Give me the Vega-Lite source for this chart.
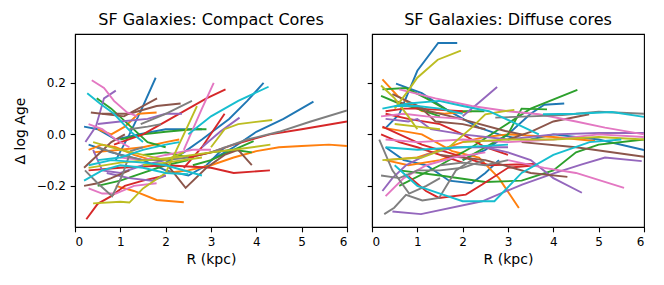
{
"$schema":"https://vega.github.io/schema/vega-lite/v6.json",
"padding":{"left":12,"top":11,"right":5,"bottom":5},
"config":{"font":"DejaVu Sans","view":{"stroke":"black","strokeWidth":1.1},
"axis":{"grid":false,"domainColor":"black","domainWidth":1.1,"tickColor":"black","tickWidth":1.1,"labelColor":"black","titleColor":"black","labelFontSize":12,"titleFontSize":14,"titleFontWeight":"normal","tickSize":4.8,"labelFont":"DejaVu Sans","titleFont":"DejaVu Sans"},
"title":{"fontSize":16,"fontWeight":"normal","font":"DejaVu Sans","color":"black","anchor":"middle","offset":6}},
"datasets":{
"compact":[
{"s":"00","x":0.9,"y":-0.1},{"s":"00","x":1.2,"y":0.0},{"s":"00","x":1.45,"y":0.09},{"s":"00","x":1.78,"y":0.22},
{"s":"10","x":1.9,"y":-0.12},{"s":"10","x":2.4,"y":-0.07},{"s":"10","x":2.8,"y":-0.02},{"s":"10","x":3.4,"y":0.06},{"s":"10","x":3.8,"y":0.13},{"s":"10","x":4.16,"y":0.2},
{"s":"20","x":3.0,"y":-0.1},{"s":"20","x":3.5,"y":-0.05},{"s":"20","x":4.0,"y":0.01},{"s":"20","x":4.6,"y":0.06},{"s":"20","x":5.26,"y":0.127},
{"s":"30","x":0.2,"y":0.03},{"s":"30","x":0.5,"y":0.02},{"s":"30","x":0.9,"y":-0.02},{"s":"30","x":1.4,"y":0.0},{"s":"30","x":2.0,"y":0.02},{"s":"30","x":2.5,"y":0.02},{"s":"30","x":2.8,"y":0.02},
{"s":"40","x":0.3,"y":-0.04},{"s":"40","x":0.8,"y":-0.07},{"s":"40","x":1.5,"y":-0.1},{"s":"40","x":2.0,"y":-0.14},{"s":"40","x":2.5,"y":-0.16},{"s":"40","x":2.9,"y":-0.12},{"s":"40","x":3.3,"y":-0.05},
{"s":"01","x":2.0,"y":-0.15},{"s":"01","x":2.5,"y":-0.14},{"s":"01","x":3.0,"y":-0.12},{"s":"01","x":3.5,"y":-0.09},{"s":"01","x":4.0,"y":-0.065},{"s":"01","x":4.5,"y":-0.05},{"s":"01","x":5.0,"y":-0.045},{"s":"01","x":5.6,"y":-0.04},{"s":"01","x":6.0,"y":-0.045},
{"s":"11","x":0.9,"y":-0.2},{"s":"11","x":1.3,"y":-0.22},{"s":"11","x":1.8,"y":-0.255},{"s":"11","x":2.4,"y":-0.264},
{"s":"21","x":0.5,"y":0.02},{"s":"21","x":0.8,"y":0.0},{"s":"21","x":1.1,"y":0.03},{"s":"21","x":1.4,"y":0.08},{"s":"21","x":1.8,"y":0.085},
{"s":"31","x":0.4,"y":-0.07},{"s":"31","x":1.0,"y":-0.06},{"s":"31","x":1.5,"y":-0.05},{"s":"31","x":2.0,"y":-0.03},{"s":"31","x":2.3,"y":-0.02},
{"s":"41","x":0.3,"y":-0.06},{"s":"41","x":0.6,"y":-0.04},{"s":"41","x":0.9,"y":-0.05},{"s":"41","x":1.3,"y":-0.08},{"s":"41","x":1.7,"y":-0.1},
{"s":"02","x":0.48,"y":0.14},{"s":"02","x":0.8,"y":0.1},{"s":"02","x":1.23,"y":0.03},{"s":"02","x":1.6,"y":-0.03},{"s":"02","x":2.0,"y":-0.05},
{"s":"12","x":0.5,"y":-0.2},{"s":"12","x":1.0,"y":-0.18},{"s":"12","x":1.5,"y":-0.15},{"s":"12","x":2.0,"y":-0.12},{"s":"12","x":2.5,"y":-0.1},
{"s":"22","x":1.5,"y":-0.08},{"s":"22","x":2.0,"y":-0.07},{"s":"22","x":2.5,"y":-0.09},{"s":"22","x":3.0,"y":-0.07},{"s":"22","x":3.5,"y":-0.06},{"s":"22","x":3.9,"y":-0.07},
{"s":"32","x":1.0,"y":-0.02},{"s":"32","x":1.5,"y":0.0},{"s":"32","x":2.0,"y":0.01},{"s":"32","x":2.6,"y":0.02},{"s":"32","x":2.9,"y":0.02},
{"s":"42","x":2.6,"y":-0.12},{"s":"42","x":3.0,"y":-0.1},{"s":"42","x":3.5,"y":-0.06},{"s":"42","x":3.94,"y":-0.026},
{"s":"03","x":0.86,"y":-0.04},{"s":"03","x":1.5,"y":0.0},{"s":"03","x":2.2,"y":0.07},{"s":"03","x":2.9,"y":0.14},{"s":"03","x":3.32,"y":0.175},
{"s":"13","x":2.4,"y":-0.13},{"s":"13","x":2.8,"y":-0.05},{"s":"13","x":3.3,"y":0.08},
{"s":"23","x":0.3,"y":-0.14},{"s":"23","x":1.0,"y":-0.13},{"s":"23","x":2.0,"y":-0.12},{"s":"23","x":3.0,"y":-0.13},{"s":"23","x":3.5,"y":-0.15},{"s":"23","x":4.3,"y":-0.14},
{"s":"33","x":0.25,"y":-0.33},{"s":"33","x":0.5,"y":-0.27},{"s":"33","x":0.8,"y":-0.24},{"s":"33","x":1.1,"y":-0.2},{"s":"33","x":1.5,"y":-0.18},{"s":"33","x":2.0,"y":-0.16},
{"s":"43","x":2.5,"y":-0.09},{"s":"43","x":3.0,"y":-0.07},{"s":"43","x":3.5,"y":-0.04},{"s":"43","x":4.3,"y":0.0},{"s":"43","x":5.0,"y":0.02},{"s":"43","x":6.0,"y":0.05},
{"s":"04","x":0.23,"y":-0.03},{"s":"04","x":0.46,"y":0.03},{"s":"04","x":0.64,"y":0.14},{"s":"04","x":0.9,"y":0.17},
{"s":"14","x":2.8,"y":-0.05},{"s":"14","x":3.2,"y":0.01},{"s":"14","x":3.63,"y":0.065},
{"s":"24","x":0.5,"y":0.04},{"s":"24","x":1.0,"y":0.05},{"s":"24","x":1.6,"y":0.06},{"s":"24","x":2.0,"y":0.08},{"s":"24","x":2.36,"y":0.08},
{"s":"34","x":0.4,"y":-0.06},{"s":"34","x":0.6,"y":-0.14},{"s":"34","x":1.0,"y":-0.15},{"s":"34","x":1.5,"y":-0.12},{"s":"34","x":2.0,"y":-0.1},
{"s":"44","x":0.7,"y":-0.15},{"s":"44","x":1.2,"y":-0.17},{"s":"44","x":1.7,"y":-0.18},{"s":"44","x":2.0,"y":-0.16},
{"s":"05","x":0.35,"y":0.085},{"s":"05","x":1.08,"y":0.07},{"s":"05","x":1.81,"y":0.14},
{"s":"15","x":0.6,"y":0.08},{"s":"15","x":1.2,"y":0.08},{"s":"15","x":1.8,"y":0.11},{"s":"15","x":2.33,"y":0.12},
{"s":"25","x":2.0,"y":-0.11},{"s":"25","x":2.44,"y":-0.208},{"s":"25","x":2.9,"y":-0.13},{"s":"25","x":3.3,"y":-0.08},{"s":"25","x":3.6,"y":-0.06},{"s":"25","x":3.9,"y":-0.12},
{"s":"35","x":0.2,"y":-0.13},{"s":"35","x":0.5,"y":-0.08},{"s":"35","x":0.8,"y":-0.03},{"s":"35","x":1.1,"y":0.0},
{"s":"45","x":0.2,"y":-0.2},{"s":"45","x":0.5,"y":-0.19},{"s":"45","x":0.8,"y":-0.17},{"s":"45","x":1.2,"y":-0.14},
{"s":"06","x":0.37,"y":0.21},{"s":"06","x":0.64,"y":0.18},{"s":"06","x":0.86,"y":0.13},{"s":"06","x":1.15,"y":0.085},{"s":"06","x":1.38,"y":0.07},
{"s":"16","x":2.4,"y":-0.06},{"s":"16","x":2.8,"y":0.1},{"s":"16","x":3.06,"y":0.2},
{"s":"26","x":0.3,"y":0.04},{"s":"26","x":0.6,"y":0.02},{"s":"26","x":0.9,"y":-0.02},{"s":"26","x":1.2,"y":-0.05},
{"s":"36","x":0.3,"y":-0.21},{"s":"36","x":0.6,"y":-0.23},{"s":"36","x":0.9,"y":-0.23},{"s":"36","x":1.3,"y":-0.2},{"s":"36","x":1.8,"y":-0.19},
{"s":"46","x":1.0,"y":-0.09},{"s":"46","x":1.5,"y":-0.1},{"s":"46","x":2.0,"y":-0.08},{"s":"46","x":2.6,"y":-0.06},{"s":"46","x":3.0,"y":-0.06},
{"s":"07","x":1.45,"y":0.04},{"s":"07","x":2.0,"y":0.08},{"s":"07","x":2.58,"y":0.13},
{"s":"17","x":3.0,"y":-0.07},{"s":"17","x":3.8,"y":-0.02},{"s":"17","x":4.5,"y":0.01},{"s":"17","x":5.2,"y":0.05},{"s":"17","x":6.0,"y":0.093},
{"s":"27","x":0.22,"y":-0.14},{"s":"27","x":0.5,"y":-0.19},{"s":"27","x":0.82,"y":-0.24},{"s":"27","x":1.04,"y":-0.16},{"s":"27","x":1.23,"y":-0.065},{"s":"27","x":1.5,"y":-0.05},
{"s":"37","x":0.5,"y":-0.05},{"s":"37","x":1.0,"y":-0.08},{"s":"37","x":1.5,"y":-0.1},{"s":"37","x":2.0,"y":-0.1},{"s":"37","x":2.5,"y":-0.09},
{"s":"47","x":1.2,"y":0.02},{"s":"47","x":1.6,"y":0.03},{"s":"47","x":1.9,"y":0.04},
{"s":"08","x":3.0,"y":-0.05},{"s":"08","x":3.3,"y":0.02},{"s":"08","x":3.6,"y":0.04},{"s":"08","x":4.35,"y":0.056},
{"s":"18","x":0.4,"y":-0.268},{"s":"18","x":1.0,"y":-0.262},{"s":"18","x":1.2,"y":-0.265},{"s":"18","x":1.5,"y":-0.21},{"s":"18","x":2.0,"y":-0.15},{"s":"18","x":2.47,"y":0.026},{"s":"18","x":2.69,"y":0.11},
{"s":"28","x":0.4,"y":-0.03},{"s":"28","x":1.0,"y":-0.06},{"s":"28","x":1.5,"y":-0.08},{"s":"28","x":2.0,"y":-0.1},{"s":"28","x":2.4,"y":-0.07},
{"s":"38","x":0.3,"y":-0.13},{"s":"38","x":1.0,"y":-0.11},{"s":"38","x":1.6,"y":-0.1},{"s":"38","x":2.2,"y":-0.09},{"s":"38","x":3.0,"y":-0.07},{"s":"38","x":3.5,"y":-0.06},{"s":"38","x":4.31,"y":-0.04},
{"s":"48","x":1.5,"y":-0.12},{"s":"48","x":2.0,"y":-0.11},{"s":"48","x":2.8,"y":-0.09},
{"s":"09","x":0.27,"y":0.16},{"s":"09","x":0.55,"y":0.12},{"s":"09","x":0.86,"y":0.08},{"s":"09","x":1.23,"y":0.01},{"s":"09","x":1.5,"y":-0.03},
{"s":"19","x":2.5,"y":0.0},{"s":"19","x":3.0,"y":0.07},{"s":"19","x":3.6,"y":0.13},{"s":"19","x":4.27,"y":0.185},
{"s":"29","x":0.2,"y":-0.18},{"s":"29","x":0.6,"y":-0.14},{"s":"29","x":1.0,"y":-0.12},{"s":"29","x":1.5,"y":-0.13},{"s":"29","x":2.0,"y":-0.15},{"s":"29","x":2.5,"y":-0.155},
{"s":"39","x":0.5,"y":-0.1},{"s":"39","x":1.0,"y":-0.09},{"s":"39","x":1.5,"y":-0.06},{"s":"39","x":2.0,"y":-0.04},{"s":"39","x":2.3,"y":-0.03},
{"s":"49","x":0.3,"y":-0.12},{"s":"49","x":0.8,"y":-0.1},{"s":"49","x":1.5,"y":-0.11},{"s":"49","x":2.0,"y":-0.12},{"s":"49","x":2.8,"y":-0.16}
],
"diffuse":[
{"s":"00","x":0.31,"y":0.026},{"s":"00","x":0.6,"y":0.078},{"s":"00","x":1.0,"y":0.247},{"s":"00","x":1.46,"y":0.355},{"s":"00","x":1.88,"y":0.355},
{"s":"10","x":0.53,"y":0.197},{"s":"10","x":1.1,"y":0.16},{"s":"10","x":1.7,"y":0.09},{"s":"10","x":2.36,"y":0.026},{"s":"10","x":2.8,"y":0.0},{"s":"10","x":3.3,"y":-0.02},
{"s":"20","x":2.0,"y":-0.1},{"s":"20","x":2.5,"y":-0.06},{"s":"20","x":3.0,"y":0.0},{"s":"20","x":3.5,"y":0.08},{"s":"20","x":3.8,"y":0.115},{"s":"20","x":4.24,"y":0.12},
{"s":"30","x":3.5,"y":-0.02},{"s":"30","x":4.0,"y":0.0},{"s":"30","x":5.0,"y":-0.02},{"s":"30","x":6.0,"y":-0.061},
{"s":"40","x":0.3,"y":-0.05},{"s":"40","x":0.7,"y":-0.1},{"s":"40","x":1.2,"y":-0.12},{"s":"40","x":1.7,"y":-0.18},{"s":"40","x":2.2,"y":-0.19},{"s":"40","x":2.5,"y":-0.15},{"s":"40","x":2.8,"y":-0.1},
{"s":"01","x":0.23,"y":0.214},{"s":"01","x":0.56,"y":0.15},{"s":"01","x":1.1,"y":0.09},{"s":"01","x":1.6,"y":0.08},{"s":"01","x":2.2,"y":0.09},
{"s":"11","x":0.23,"y":0.026},{"s":"11","x":1.1,"y":0.0},{"s":"11","x":1.77,"y":-0.065},{"s":"11","x":2.36,"y":-0.09},{"s":"11","x":2.8,"y":-0.17},{"s":"11","x":3.24,"y":-0.286},
{"s":"21","x":0.3,"y":-0.1},{"s":"21","x":1.0,"y":-0.09},{"s":"21","x":1.5,"y":-0.06},{"s":"21","x":2.0,"y":-0.03},{"s":"21","x":2.5,"y":-0.01},{"s":"21","x":3.0,"y":0.0},{"s":"21","x":3.4,"y":0.0},
{"s":"31","x":3.0,"y":0.0},{"s":"31","x":4.0,"y":-0.01},{"s":"31","x":4.92,"y":-0.026},
{"s":"41","x":0.3,"y":-0.1},{"s":"41","x":0.8,"y":-0.12},{"s":"41","x":1.5,"y":-0.1},{"s":"41","x":2.0,"y":-0.07},
{"s":"02","x":0.23,"y":0.175},{"s":"02","x":0.75,"y":0.18},{"s":"02","x":1.2,"y":0.14},{"s":"02","x":1.7,"y":0.09},{"s":"02","x":2.48,"y":0.09},
{"s":"12","x":0.6,"y":-0.2},{"s":"12","x":1.5,"y":-0.12},{"s":"12","x":2.2,"y":-0.05},{"s":"12","x":2.8,"y":0.02},{"s":"12","x":3.5,"y":0.1},{"s":"12","x":4.53,"y":0.173},
{"s":"22","x":2.0,"y":-0.1},{"s":"22","x":2.5,"y":-0.05},{"s":"22","x":3.0,"y":0.0},{"s":"22","x":3.3,"y":0.1},{"s":"22","x":3.86,"y":0.097},
{"s":"32","x":0.6,"y":-0.14},{"s":"32","x":1.5,"y":-0.16},{"s":"32","x":2.5,"y":-0.185},{"s":"32","x":3.3,"y":-0.18},{"s":"32","x":4.0,"y":-0.14},{"s":"32","x":4.5,"y":-0.07},{"s":"32","x":5.0,"y":-0.04},{"s":"32","x":6.0,"y":-0.02},
{"s":"42","x":0.2,"y":0.15},{"s":"42","x":0.6,"y":0.12},{"s":"42","x":1.0,"y":0.1},{"s":"42","x":1.5,"y":0.07},
{"s":"03","x":0.3,"y":0.09},{"s":"03","x":0.7,"y":0.1},{"s":"03","x":1.0,"y":0.1},{"s":"03","x":1.5,"y":0.095},{"s":"03","x":2.0,"y":0.09},
{"s":"13","x":0.23,"y":0.03},{"s":"13","x":1.1,"y":-0.04},{"s":"13","x":1.85,"y":-0.08},{"s":"13","x":2.58,"y":-0.12},{"s":"13","x":3.6,"y":-0.115},
{"s":"23","x":0.75,"y":-0.155},{"s":"23","x":1.19,"y":-0.22},{"s":"23","x":1.48,"y":-0.247},{"s":"23","x":2.07,"y":-0.234},{"s":"23","x":2.43,"y":-0.195},{"s":"23","x":3.0,"y":-0.13},{"s":"23","x":3.6,"y":-0.12},
{"s":"33","x":0.3,"y":0.08},{"s":"33","x":0.8,"y":0.06},{"s":"33","x":1.5,"y":0.04},{"s":"33","x":2.0,"y":0.0},{"s":"33","x":2.5,"y":-0.05},{"s":"33","x":3.0,"y":-0.08},
{"s":"43","x":0.2,"y":0.0},{"s":"43","x":0.6,"y":-0.03},{"s":"43","x":1.0,"y":-0.05},{"s":"43","x":1.5,"y":-0.08},{"s":"43","x":2.0,"y":-0.11},
{"s":"04","x":2.0,"y":0.07},{"s":"04","x":2.4,"y":0.13},{"s":"04","x":2.76,"y":0.184},
{"s":"14","x":0.45,"y":-0.3},{"s":"14","x":1.08,"y":-0.31},{"s":"14","x":2.43,"y":-0.26},{"s":"14","x":3.31,"y":-0.195},{"s":"14","x":4.04,"y":-0.15},{"s":"14","x":4.63,"y":-0.117},{"s":"14","x":5.14,"y":-0.09},{"s":"14","x":5.95,"y":-0.104},
{"s":"24","x":0.23,"y":-0.22},{"s":"24","x":0.45,"y":-0.17},{"s":"24","x":0.75,"y":-0.12},{"s":"24","x":1.2,"y":-0.08},{"s":"24","x":1.8,"y":-0.05},{"s":"24","x":2.5,"y":-0.05},{"s":"24","x":3.0,"y":-0.05},
{"s":"34","x":2.5,"y":-0.05},{"s":"34","x":3.0,"y":-0.07},{"s":"34","x":3.5,"y":-0.1},{"s":"34","x":4.0,"y":-0.17},{"s":"34","x":4.63,"y":-0.227},
{"s":"44","x":0.3,"y":0.06},{"s":"44","x":0.8,"y":0.05},{"s":"44","x":1.0,"y":0.06},{"s":"44","x":1.3,"y":0.02},{"s":"44","x":2.0,"y":0.0},{"s":"44","x":3.0,"y":-0.02},{"s":"44","x":4.0,"y":0.0},{"s":"44","x":5.0,"y":0.005},{"s":"44","x":6.0,"y":0.005},
{"s":"05","x":0.45,"y":0.156},{"s":"05","x":1.26,"y":0.09},{"s":"05","x":1.85,"y":0.065},{"s":"05","x":2.94,"y":0.013},{"s":"05","x":3.3,"y":0.0},
{"s":"15","x":3.0,"y":-0.02},{"s":"15","x":3.5,"y":0.01},{"s":"15","x":4.0,"y":0.05},{"s":"15","x":4.79,"y":0.078},
{"s":"25","x":1.5,"y":-0.08},{"s":"25","x":2.5,"y":-0.1},{"s":"25","x":3.5,"y":-0.15},{"s":"25","x":4.31,"y":-0.165},
{"s":"35","x":3.3,"y":-0.03},{"s":"35","x":4.5,"y":-0.05},{"s":"35","x":6.0,"y":-0.087},
{"s":"45","x":0.5,"y":0.13},{"s":"45","x":1.1,"y":0.1},{"s":"45","x":1.4,"y":0.05},{"s":"45","x":2.0,"y":0.04},{"s":"45","x":2.5,"y":0.02},
{"s":"06","x":0.6,"y":0.175},{"s":"06","x":1.4,"y":0.14},{"s":"06","x":2.2,"y":0.11},{"s":"06","x":3.0,"y":0.09},{"s":"06","x":3.68,"y":0.078},{"s":"06","x":4.5,"y":0.05},{"s":"06","x":5.14,"y":0.026},{"s":"06","x":6.0,"y":0.0},
{"s":"16","x":3.0,"y":-0.1},{"s":"16","x":3.8,"y":-0.13},{"s":"16","x":4.5,"y":-0.15},{"s":"16","x":5.56,"y":-0.208},
{"s":"26","x":0.3,"y":-0.24},{"s":"26","x":0.7,"y":-0.17},{"s":"26","x":1.2,"y":-0.12},{"s":"26","x":1.8,"y":-0.09},{"s":"26","x":2.5,"y":-0.07},
{"s":"36","x":0.3,"y":-0.02},{"s":"36","x":1.0,"y":-0.03},{"s":"36","x":2.0,"y":-0.02},{"s":"36","x":3.0,"y":-0.03},{"s":"36","x":4.0,"y":-0.02},{"s":"36","x":5.0,"y":0.0},{"s":"36","x":6.0,"y":-0.01},
{"s":"46","x":0.2,"y":0.07},{"s":"46","x":0.7,"y":0.08},{"s":"46","x":1.2,"y":0.07},{"s":"46","x":2.0,"y":0.06},
{"s":"07","x":2.72,"y":0.065},{"s":"07","x":3.5,"y":0.07},{"s":"07","x":4.2,"y":0.075},{"s":"07","x":5.0,"y":0.088},{"s":"07","x":6.0,"y":0.08},
{"s":"17","x":0.27,"y":-0.31},{"s":"17","x":0.49,"y":-0.285},{"s":"17","x":0.75,"y":-0.235},{"s":"17","x":1.11,"y":-0.257},{"s":"17","x":1.48,"y":-0.247},{"s":"17","x":1.85,"y":-0.14},{"s":"17","x":2.2,"y":-0.1},
{"s":"27","x":0.16,"y":-0.02},{"s":"27","x":0.45,"y":-0.14},{"s":"27","x":0.82,"y":-0.23},{"s":"27","x":1.2,"y":-0.2},{"s":"27","x":1.5,"y":-0.17},
{"s":"37","x":0.2,"y":-0.16},{"s":"37","x":0.6,"y":-0.17},{"s":"37","x":1.0,"y":-0.14},{"s":"37","x":1.5,"y":-0.14},{"s":"37","x":2.0,"y":-0.13},{"s":"37","x":2.5,"y":-0.1},
{"s":"47","x":1.5,"y":-0.12},{"s":"47","x":2.0,"y":-0.11},{"s":"47","x":2.5,"y":-0.12},{"s":"47","x":3.0,"y":-0.1},
{"s":"08","x":0.5,"y":0.1},{"s":"08","x":0.8,"y":0.17},{"s":"08","x":1.0,"y":0.22},{"s":"08","x":1.45,"y":0.29},{"s":"08","x":1.96,"y":0.325},
{"s":"18","x":0.2,"y":0.19},{"s":"18","x":0.5,"y":0.14},{"s":"18","x":0.8,"y":0.07},{"s":"18","x":1.0,"y":0.02},
{"s":"28","x":0.23,"y":-0.1},{"s":"28","x":1.1,"y":-0.09},{"s":"28","x":1.7,"y":-0.05},{"s":"28","x":2.2,"y":0.026},{"s":"28","x":2.5,"y":0.078},{"s":"28","x":2.9,"y":0.09},{"s":"28","x":3.14,"y":0.095},
{"s":"38","x":2.0,"y":-0.03},{"s":"38","x":3.0,"y":-0.02},{"s":"38","x":4.0,"y":-0.02},{"s":"38","x":5.0,"y":-0.01},{"s":"38","x":6.0,"y":-0.02},
{"s":"48","x":0.5,"y":0.04},{"s":"48","x":1.0,"y":0.03},{"s":"48","x":1.5,"y":0.02},
{"s":"09","x":3.77,"y":0.078},{"s":"09","x":4.5,"y":0.08},{"s":"09","x":5.29,"y":0.087},{"s":"09","x":6.0,"y":0.068},
{"s":"19","x":0.23,"y":0.1},{"s":"19","x":0.8,"y":0.12},{"s":"19","x":1.48,"y":0.13},{"s":"19","x":2.0,"y":0.11},{"s":"19","x":2.58,"y":0.09},{"s":"19","x":3.2,"y":0.04},{"s":"19","x":3.68,"y":0.0},
{"s":"29","x":0.5,"y":-0.12},{"s":"29","x":1.0,"y":-0.2},{"s":"29","x":1.5,"y":-0.23},{"s":"29","x":2.0,"y":-0.26},{"s":"29","x":2.7,"y":-0.26},{"s":"29","x":3.3,"y":-0.15},{"s":"29","x":4.0,"y":-0.08},{"s":"29","x":4.8,"y":-0.03},{"s":"29","x":5.5,"y":-0.02},
{"s":"39","x":0.3,"y":-0.05},{"s":"39","x":1.0,"y":-0.06},{"s":"39","x":2.0,"y":-0.05},{"s":"39","x":3.0,"y":-0.04},
{"s":"49","x":0.5,"y":0.11},{"s":"49","x":1.0,"y":0.11},{"s":"49","x":1.5,"y":0.1},{"s":"49","x":2.0,"y":0.08}
]},
"spacing":17,
"resolve":{"scale":{"color":"shared"}},
"hconcat":[
{"width":272,"height":193,"title":"SF Galaxies: Compact Cores",
"layer":[
{"data":{"name":"compact"},"mark":{"type":"line","strokeWidth":1.9,"clip":true},
"encoding":{"x":{"field":"x","type":"quantitative","scale":{"domain":[0,6],"nice":false},"axis":{"values":[0,1,2,3,4,5,6],"format":"d","title":"R (kpc)","labelPadding":4.8,"titlePadding":5}},
"y":{"field":"y","type":"quantitative","scale":{"domain":[-0.36,0.39],"nice":false,"zero":false},"axis":{"values":[-0.2,0,0.2],"format":".1f","title":"Δ log Age","labelPadding":4.8,"titlePadding":9}},
"color":{"field":"s","type":"nominal","scale":{"scheme":"category10"},"legend":null}}},
{"mark":{"type":"rule","strokeDash":[7,3.3],"strokeWidth":2,"color":"black"},"encoding":{"y":{"datum":0}}}
]},
{"width":272,"height":193,"title":"SF Galaxies: Diffuse cores",
"layer":[
{"data":{"name":"diffuse"},"mark":{"type":"line","strokeWidth":1.9,"clip":true},
"encoding":{"x":{"field":"x","type":"quantitative","scale":{"domain":[0,6],"nice":false},"axis":{"values":[0,1,2,3,4,5,6],"format":"d","title":"R (kpc)","labelPadding":4.8,"titlePadding":5}},
"y":{"field":"y","type":"quantitative","scale":{"domain":[-0.36,0.39],"nice":false,"zero":false},"axis":{"values":[-0.2,0,0.2],"labels":false,"title":null}},
"color":{"field":"s","type":"nominal","scale":{"scheme":"category10"},"legend":null}}},
{"mark":{"type":"rule","strokeDash":[7,3.3],"strokeWidth":2,"color":"black"},"encoding":{"y":{"datum":0}}}
]}
]
}
